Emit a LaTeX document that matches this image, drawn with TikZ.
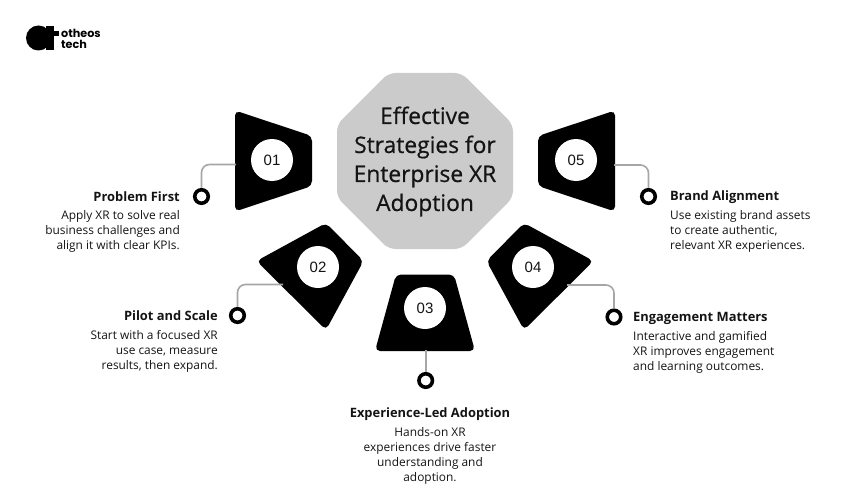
\documentclass[tikz,border=0pt]{standalone}
\usepackage{fontspec}
\setmainfont{Open Sans}
\newfontfamily\numfont{Liberation Sans}
\newfontfamily\logofont{Poppins}
\newfontfamily\titlefont[FakeBold=0.6]{Open Sans}
\definecolor{octaGray}{HTML}{CBCBCB}
\definecolor{leadGray}{HTML}{A6A6A6}
\definecolor{inkBlack}{HTML}{141414}
\tikzset{
  badge/.style={fill=black, rounded corners=5pt},
  numdisc/.style={circle, fill=white, minimum size=42pt, inner sep=0pt, text=inkBlack, font=\numfont\fontsize{15}{15}\selectfont},
  ring/.style={circle, draw=black, line width=3.6pt, fill=white, minimum size=13.5pt, inner sep=0pt},
  lead/.style={draw=leadGray, line width=1.6pt, rounded corners=8pt},
  headtext/.style={font=\bfseries\fontsize{12.9}{15}\selectfont, text=inkBlack, inner sep=0pt},
  bodytext/.style={font=\fontsize{11.9}{15}\selectfont, text=inkBlack, inner sep=0pt},
  logotext/.style={anchor=west, inner sep=0pt, font=\logofont\bfseries\fontsize{11.2}{11.2}\selectfont},
}

\begin{document}
\begin{tikzpicture}[x=1pt,y=-1pt]

\useasboundingbox (0,0) rectangle (850,500);

% Logo
\fill[black] (38.5,38) circle (12.5);
\fill[black] (46,26) rectangle (54,50);
\fill[black] (44,31.5) rectangle (59,36.5);
\node[logotext] (logoA) at (61,33.5) {otheos};
\node[logotext] (logoB) at (61,44) {tech};

% Centre octagon
\fill[octaGray, rounded corners=7pt] (388.5,73) -- (461.5,73) -- (513,124.5) -- (513,197.5)
  -- (461.5,249) -- (388.5,249) -- (337,197.5) -- (337,124.5) -- cycle;
\node[align=center, inner sep=0pt, text=inkBlack, font=\titlefont\fontsize{22.8}{29}\selectfont] (title) at (425,161.5)
  {Effective\\Strategies for\\Enterprise XR\\Adoption};

% Black shapes
\fill[badge] (235,110.5) -- (312,136) -- (312,186) -- (235,211.5) -- cycle;
\fill[badge] (326,223) -- (363.5,261) -- (326,330) -- (256.5,261) -- cycle;
\fill[badge] (396,274.5) -- (454,274.5) -- (475,351) -- (375,351) -- cycle;
\fill[badge] (524,223) -- (593.5,261) -- (524,330) -- (486.5,261) -- cycle;
\fill[badge] (615,110.5) -- (615,211.5) -- (538,186) -- (538,136) -- cycle;

% Numbers
\foreach \id/\cx/\cy in {01/272/160, 02/318/267, 03/425/308, 04/533/267, 05/576/160} {
    \node[numdisc] (disc\id) at (\cx,\cy) {\id};
}

% Rings
\foreach \id/\cx/\cy in {01/201.5/196.5, 02/237.5/315.5, 03/425.7/380.5, 04/614/317, 05/648.5/196.5} {
    \node[ring] (ring\id) at (\cx,\cy) {};
}

% Start points of the connectors
\coordinate (start01) at (236,164.5);
\coordinate (start02) at (283,284.5);
\coordinate (start03) at (425.7,350);
\coordinate (start04) at (567,285);
\coordinate (start05) at (614,165);

\draw[lead] (start01) -| (ring01);
\draw[lead] (start02) -| (ring02);
\draw[lead] (start03) -- (ring03);
\draw[lead] (start04) -| (ring04);
\draw[lead] (start05) -| (ring05);

% Texts on the left
\node[headtext, anchor=east] (head01) at (180,197) {Problem First};
\node[bodytext, anchor=north east, align=right] (body01) at (180,210)
  {Apply XR to solve real\\business challenges and\\align it with clear KPIs.};
\node[headtext, anchor=east] (head02) at (218,316) {Pilot and Scale};
\node[bodytext, anchor=north east, align=right] (body02) at (218,330)
  {Start with a focused XR\\use case, measure\\results, then expand.};

% Text below
\node[headtext, anchor=center] (head03) at (430,414) {Experience-Led Adoption};
\node[bodytext, anchor=north, align=center] (body03) at (430,427)
  {Hands-on XR\\experiences drive faster\\understanding and\\adoption.};

% Texts on the right
\node[headtext, anchor=west] (head04) at (633,318) {Engagement Matters};
\node[bodytext, anchor=north west, align=left] (body04) at (633,331)
  {Interactive and gamified\\XR improves engagement\\and learning outcomes.};
\node[headtext, anchor=west] (head05) at (670,197) {Brand Alignment};
\node[bodytext, anchor=north west, align=left] (body05) at (670,210)
  {Use existing brand assets\\to create authentic,\\relevant XR experiences.};

\end{tikzpicture}
\end{document}
